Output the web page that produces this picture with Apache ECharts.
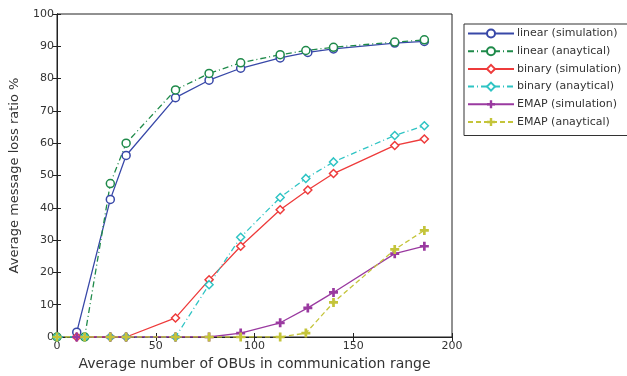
<!DOCTYPE html>
<html lang="en">
<head>
<meta charset="utf-8">
<title>Average message loss ratio</title>
<script src="https://cdn.jsdelivr.net/npm/echarts@6/dist/echarts.min.js"></script>
<style>
  html, body { margin: 0; padding: 0; background: #fff; }
  #main { width: 627px; height: 376px; }
</style>
</head>
<body>
<div id="main"></div>
<script>
// x positions (number of OBUs) for simulation and analytical runs
var xSim = [10, 27, 35, 60, 77, 93, 113, 127, 140, 171, 186];
var xAna = [0, 14, 27, 35, 60, 77, 93, 113, 126, 140, 171, 186];

var linearSim = [1.5, 42.6, 56.2, 74.1, 79.5, 83.2, 86.4, 88.1, 89.2, 91.0, 91.5];
var linearAna = [0, 0, 47.5, 60.0, 76.5, 81.6, 84.9, 87.4, 88.7, 89.7, 91.3, 92.0];
var binarySim = [0, 0, 0, 5.9, 17.7, 28.1, 39.4, 45.5, 50.6, 59.3, 61.3];
var binaryAna = [0, 0, 0, 0, 0, 16.2, 30.9, 43.2, 49.1, 54.2, 62.4, 65.4];
var emapSim = [0, 0, 0, 0, 0, 1.2, 4.4, 9.0, 13.8, 25.8, 28.1];
var emapAna = [0, 0, 0, 0, 0, 0, 0, 0, 1.2, 10.7, 27.1, 33.0];

var xTicks = [0, 50, 100, 150, 200];
var yTicks = [0, 10, 20, 30, 40, 50, 60, 70, 80, 90, 100];

function pairs(xs, ys) {
  return ys.map(function (v, i) { return [xs[i], v]; });
}

var plusPath = 'path://M3.5,0 h3 v3.5 h3.5 v3 h-3.5 v3.5 h-3 v-3.5 h-3.5 v-3 h3.5 z';
var dashDot = [6, 3, 1, 3];

function mk(name, xs, ys, color, symbol, dash, filled) {
  return {
    name: name,
    type: 'line',
    data: pairs(xs, ys),
    symbol: symbol,
    symbolSize: symbol === plusPath ? 9 : 8,
    showSymbol: true,
    color: color,
    lineStyle: { color: color, width: 1.3, type: dash },
    itemStyle: {
      color: filled ? color : '#fff',
      borderColor: color,
      borderWidth: filled ? 0 : 1.5
    },
    emphasis: { disabled: true },
    animation: false
  };
}

var chart = echarts.init(document.getElementById('main'));
var font = '"DejaVu Sans", Arial, Helvetica, sans-serif';

chart.setOption({
  textStyle: { fontFamily: font },
  grid: { left: 55, right: 175, top: 14, bottom: 36, show: true, borderColor: '#222', borderWidth: 1 },
  legend: {
    orient: 'vertical',
    left: 464,
    top: 24,
    padding: [4, 10, 8, 3],
    itemWidth: 46,
    itemHeight: 10,
    itemGap: 6.7,
    borderColor: '#333',
    borderWidth: 1,
    textStyle: { fontSize: 11, color: '#333', fontFamily: font, padding: [0, 0, 0, -2] },
    data: ['linear (simulation)', 'linear (anaytical)', 'binary (simulation)',
           'binary (anaytical)', 'EMAP (simulation)', 'EMAP (anaytical)']
  },
  xAxis: [{
    type: 'value', min: 0, max: 200, interval: 50,
    name: 'Average number of OBUs in communication range',
    nameLocation: 'middle', nameGap: 20,
    nameTextStyle: { fontSize: 14, color: '#333', fontFamily: font },
    axisLine: { show: true, lineStyle: { color: '#222' } },
    axisTick: { inside: true, length: 4, lineStyle: { color: '#222' } },
    axisLabel: { fontSize: 11, color: '#333', margin: 4 },
    splitLine: { show: false }
  }, {
    type: 'value', min: 0, max: 200, interval: 50, position: 'top',
    axisLine: { show: true, lineStyle: { color: '#222' } },
    axisTick: { inside: true, length: 4, lineStyle: { color: '#222' } },
    axisLabel: { show: false }, splitLine: { show: false }
  }],
  yAxis: [{
    type: 'value', min: 0, max: 100, interval: 10,
    name: 'Average message loss ratio %',
    nameLocation: 'middle', nameGap: 36,
    nameTextStyle: { fontSize: 13, color: '#333', fontFamily: font },
    axisLine: { show: true, lineStyle: { color: '#222' } },
    axisTick: { inside: true, length: 4, lineStyle: { color: '#222' } },
    axisLabel: { fontSize: 11, color: '#333', margin: 3 },
    splitLine: { show: false }
  }, {
    type: 'value', min: 0, max: 100, interval: 10, position: 'right',
    axisLine: { show: true, lineStyle: { color: '#222' } },
    axisTick: { inside: true, length: 4, lineStyle: { color: '#222' } },
    axisLabel: { show: false }, splitLine: { show: false }
  }],
  series: [
    mk('linear (simulation)', xSim, linearSim, '#3848a8', 'circle', 'solid', false),
    mk('linear (anaytical)', xAna, linearAna, '#1f8a4a', 'circle', dashDot, false),
    mk('binary (simulation)', xSim, binarySim, '#ee3b3b', 'diamond', 'solid', false),
    mk('binary (anaytical)', xAna, binaryAna, '#2fc4c4', 'diamond', dashDot, false),
    mk('EMAP (simulation)', xSim, emapSim, '#9a3aa0', plusPath, 'solid', true),
    mk('EMAP (anaytical)', xAna, emapAna, '#c4c43a', plusPath, [5, 3], true)
  ]
});
</script>
</body>
</html>
